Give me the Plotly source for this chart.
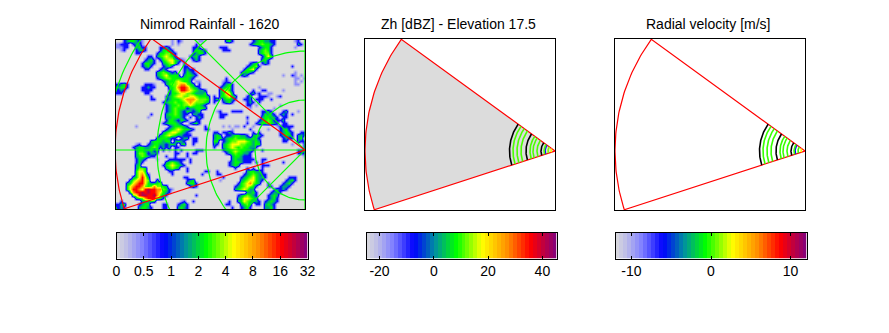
import numpy as np
import plotly.graph_objects as go
from plotly.colors import sample_colorscale

# Nimrod rainfall in 3 px boxes. Digit = rain class, . = dry
rain_rows = [
    "..2344321.........1.21.....11.. ....342......23443322......12..",
    "1222.2331.........1.1.....2.... ............234454432.......32.",
    "1122..3422....2232.......222... ..222..........23442.......1...",
    ".12...2342....24432......24432. ...222.........34542...........",
    "......22.....2445532.....23442. ...............34552...........",
    "..........22.3456542....2342... ................2464...........",
    ".........2342.245664321..232... ................342............",
    "........24432..345642.2........ ............234.232............",
    "........2342...2342...22....... ...........23452..........2....",
    ".........22...232.....2322..... ..........24562................",
    ".............3454323..24321.... .........23432.............1...",
    ".............34564443.34432.... .........232...........1..21.1.",
    ".............2345544444432..... ....2......................11.1",
    "...............2344565443.11... ...121.....................1.1.",
    "2342.....2221...3455677543.2... ...2342....................11..",
    "3442....22322....34578875432... ..23452........1...............",
    "232.....2222.....2456887654332. ..35642......2..22.....1.......",
    "22.......22......2445665543334. ..34663.....2312..11...........",
    "...........2....234566556654443 2.345643...23..2221..12........",
    "...........22...234445677765554 24.34432..223.222..2...........",
    "...............2344544567655543 2..2342....232.2...............",
    "................23445455654432. ...........22.1.......1........",
    "................23454442334443. ............1.......1..........",
    "................234543243234... .12...2222......2232...23...1..",
    "...........2....34454322.3322.. ..222...........24332.232.2....",
    "..........1.....3344432.2.232.. ..22.......2....344332.22......",
    "................24432432..22... ...........1...234542223.......",
    "...............2344432..2342... ...........2..23445432.22......",
    "......1..........2344432.....2. ...1.1.11.2..1.......122222....",
    "................2345654432...22 ......1.....2.....1...2342.....",
    "...............3456654321...... 22.2232......2.2......23432..22",
    "..............34565433222...... 343.22344332.3432.....23432.332",
    ".............3444322.233.22.... 3442344544433432.......2322.34.",
    "...........3444344.3432..22.... 44.2345566654343.......22...322",
    "......12..2344332343.34..2..... 32.3456665544344..........1...2",
    ".....2344334542323.22.......... 2..345654544332...............2",
    "......34433423.2.1.2.2....222.. ...23456544332..2...........222",
    "......35542332.....22..2.22.... ....234544332...............222",
    "......3454322...2..2...2....... ......3443222.................1",
    "......2432...1...222222.2...... ......34332222..22.............",
    "......242.......345432..2...... .....23443222.2.2......2.......",
    "......34.......24565432........ .....2343.......222............",
    "......3554......34543..2....... .......2...2.2..2..............",
    "......4664.......22....2.....22 .2.........344332..............",
    "......46752.......2.........2.. .22.......23454322.............",
    ".....346863...........22....... ...2.....234564332.......222...",
    "....3567865..3.........234..... ..1......34566432.......2342...",
    "...346788643345........3442.... ........24567543..2....2342....",
    "...46788754575543.......232.... .......23456542...22..2332.....",
    "...4688768988775421............ .......3456533......23232......",
    "....47889898876432............. ...........3342....2332.........",
    ".....568998897532.........2.... ........2345432...2343.........",
    "......3457888542............... ........3466543...2342..........",
    ".2......33343........12..2..... .....2..34654332.23432.........",
    "234....2344....22...2342....... ....22...3453.22.3432..........",
    "232....34432...22...3432....... ......2..2342....3342..........",
]

rain_class_mm = [0, 0.45, 0.8, 1.6, 2.4, 3.2, 4.8, 9, 16, 24]

# range rings and spokes on the rainfall map
ring_radius_km = [50, 99, 148, 198]
spoke_azimuth = [-90, -45, 0, 45, 90]
sector_top = 36
sector_bottom = -18
sector_radius = 190

# rings of gates seen by the radar: radius, then value
zh_ring_radius = [4, 7, 10, 11, 18, 22, 25, 34, 38, 42]
zh_ring_value = [19, 13, -8, 11, 11, 11, 11, 11, 11, 11]
zh_black_radius = [14, 29, 45.5]
vel_ring_radius = [4, 7, 10, 11, 18, 22, 25, 34, 38, 42]
vel_ring_value = [3, 0, -6, 0, 0, 0, 0, 0, 0, 0]
vel_black_radius = [14, 29, 45.5]

rain_ticks = ["0", "0.5", "1", "2", "4", "8", "16", "32"]
zh_ticks = [-20, 0, 20, 40]
vel_ticks = [-10, 0, 10]
zh_limits = [-24.8, 45.2]
vel_limits = [-12, 12]
n_steps = 48

colormap = [
    [0.0, "#dcdcdc"], [0.06, "#bcbce8"], [0.14, "#8080ff"], [0.25, "#0000ff"],
    [0.36, "#0090a0"], [0.47, "#00ff00"], [0.61, "#ffff00"], [0.74, "#ff9000"],
    [0.86, "#ff0000"], [1.0, "#800080"],
]


def cmap_color(frac):
    return sample_colorscale(colormap, [frac], colortype="rgb")[0]


def arc(radius, top=sector_top, bottom=sector_bottom):
    az = np.radians(np.linspace(bottom, top, 80))
    return -radius * np.cos(az), radius * np.sin(az)


def sector():
    x, y = arc(sector_radius)
    return [0, *x, 0], [0, *y, 0]


W, H = 889, 333
fig = go.Figure()


def px_domain(a, b, size):
    return [a / size, b / size]


def add_axes(n, left, right, top, bottom, xrange, yrange, **xkw):
    s = "" if n == 1 else str(n)
    line = dict(showline=True, linecolor="black", linewidth=1, mirror="ticks" if xkw else True,
                showgrid=False, zeroline=False)
    fig.layout["xaxis" + s] = dict(domain=px_domain(left, right, W), range=xrange,
                                   anchor="y" + s, **line, **(xkw or dict(showticklabels=False, ticks="")))
    fig.layout["yaxis" + s] = dict(domain=[1 - bottom / H, 1 - top / H], range=yrange,
                                   anchor="x" + s, showticklabels=False, ticks="",
                                   **{**line, "mirror": True})
    return dict(xaxis="x" + s, yaxis="y" + s)


# rainfall map
ax = add_axes(1, 116, 305, 40, 209, [-189, 0], [-59, 110])
rows = [r.split(" ") for r in rain_rows]
grid = [[rain_class_mm[0 if c == "." else int(c)] for c in a[:32].ljust(32, ".") + b[:31].ljust(31, ".")] for a, b in rows]
rain = np.array(grid[::-1], dtype=float)
rain_pos = np.where(rain > 0, np.log2(np.maximum(rain, 0.25)) + 2, 0)
fig.add_trace(go.Heatmap(z=rain_pos, x=-189 + 3 * (np.arange(63) + 0.5), y=-59 + 3.02 * (np.arange(56) + 0.5),
                         colorscale=colormap, zmin=0, zmax=7, showscale=False, hoverinfo="skip",
                         zsmooth="best", **ax))
for r in ring_radius_km:
    az = np.radians(np.linspace(-180, 180, 240))
    fig.add_trace(go.Scatter(x=r * np.cos(az), y=r * np.sin(az), mode="lines", cliponaxis=True,
                             line=dict(color="#00ff00", width=1.2), **ax))
for a in spoke_azimuth:
    fig.add_trace(go.Scatter(x=[0, -260 * np.cos(np.radians(a))], y=[0, 260 * np.sin(np.radians(a))], mode="lines",
                             line=dict(color="#00ff00", width=1.2), **ax))
sx, sy = sector()
fig.add_trace(go.Scatter(x=sx, y=sy, mode="lines", line=dict(color="#ff0000", width=1.2), **ax))

# the two radar panels
panels = [
    (2, 365, 555, zh_ring_radius, zh_ring_value, zh_black_radius, zh_limits, "#dcdcdc"),
    (3, 615, 805, vel_ring_radius, vel_ring_value, vel_black_radius, vel_limits, None),
]
for n, left, right, radii, values, black, limits, fill in panels:
    ax = add_axes(n, left, right, 39, 210, [-190, 0], [-59, 112])
    sx, sy = sector()
    fig.add_trace(go.Scatter(x=sx, y=sy, mode="lines", fill="toself" if fill else None, fillcolor=fill,
                             line=dict(color="#ff0000", width=1.2), **ax))
    for r, v in zip(radii, values):
        x, y = arc(r)
        frac = (v - limits[0]) / (limits[1] - limits[0])
        fig.add_trace(go.Scatter(x=x, y=y, mode="lines", line=dict(color=cmap_color(frac), width=1.6), **ax))
    for r in black:
        x, y = arc(r)
        fig.add_trace(go.Scatter(x=x, y=y, mode="lines", line=dict(color="black", width=1.6), **ax))

# colour bars
tick_font = dict(family="Liberation Sans", size=14, color="black")
bars = [
    (4, 116.5, 307.5, [0, 7], list(range(8)), rain_ticks),
    (5, 366.5, 556.5, zh_limits, zh_ticks, [str(t) for t in zh_ticks]),
    (6, 615.5, 806.5, vel_limits, vel_ticks, [str(t) for t in vel_ticks]),
]
for n, left, right, xr, tickvals, ticktext in bars:
    ax = add_axes(n, left, right, 232.5, 258.5, xr, [0, 1], ticks="inside", ticklen=3, tickcolor="black",
                  tickvals=tickvals, ticktext=ticktext, tickfont=tick_font, tickangle=0, showticklabels=True)
    edges = np.linspace(xr[0], xr[1], n_steps + 1)
    fig.add_trace(go.Heatmap(z=[(np.arange(n_steps) + 0.5) / n_steps], x=edges, y=[0, 1], zmin=0, zmax=1,
                             colorscale=colormap, showscale=False, hoverinfo="skip", **ax))

titles = [("Nimrod Rainfall - 1620", 209.5), ("Zh [dBZ] - Elevation 17.5", 459), ("Radial velocity [m/s]", 708)]
for text, cx in titles:
    fig.add_annotation(text=text, x=cx / W, y=1 - 24 / H, xref="paper", yref="paper", showarrow=False,
                       xanchor="center", yanchor="middle",
                       font=dict(family="Liberation Sans", size=14, color="black"))

fig.update_layout(width=W, height=H, margin=dict(l=0, r=0, t=0, b=0, autoexpand=False), showlegend=False,
                  paper_bgcolor="white", plot_bgcolor="white")
fig.update_xaxes(automargin=False)
fig.update_yaxes(automargin=False)
fig.write_html("out.html", config=dict(displayModeBar=False),
               post_script="document.body.style.margin='0';")
